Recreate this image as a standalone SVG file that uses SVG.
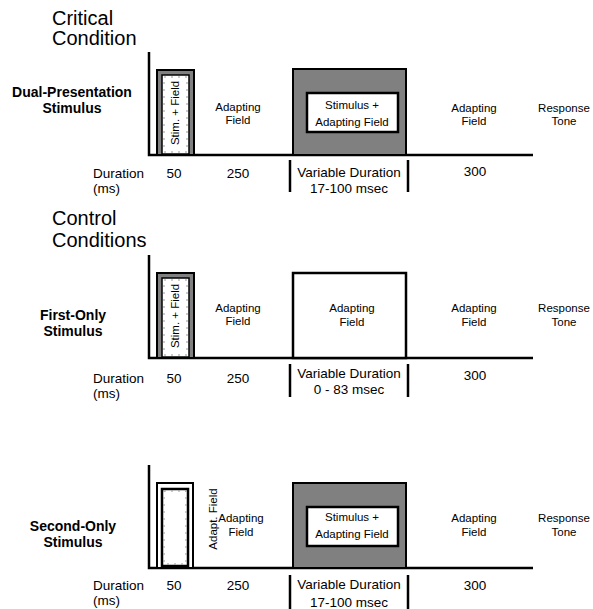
<svg xmlns="http://www.w3.org/2000/svg" width="593" height="609" viewBox="0 0 593 609">
<style>
text{font-family:"Liberation Sans",Arial,sans-serif;fill:#000}
.title{font-size:20px}
.lbl{font-size:11.5px;text-anchor:middle}
.bold{font-size:14px;font-weight:bold;text-anchor:middle}
.dur{font-size:13.5px}
.mid{text-anchor:middle}
.ax{stroke:#000;stroke-width:2.5;fill:none}
.brk{stroke:#000;stroke-width:2.5}
.grey{fill:#808080;stroke:#000;stroke-width:2}
.wbox{fill:#fff;stroke:#000;stroke-width:2.5}
.stimin{fill:#fff;stroke:#000;stroke-width:1.5}
.dots{fill:none;stroke:#999;stroke-width:1;stroke-dasharray:2 5}
</style>
<g id="titles">
<text class="title" x="52" y="25">Critical</text>
<text class="title" x="52" y="45">Condition</text>
<text class="title" x="52" y="225">Control</text>
<text class="title" x="52" y="247">Conditions</text>
</g>
<g id="panel1">
<g id="p1-label"><text class="bold" x="72" y="97">Dual-Presentation</text><text class="bold" x="72" y="113">Stimulus</text></g>
<g id="p1-axis"><path class="ax" d="M149,52 V155 H533"/></g>
<g id="p1-stim">
<rect class="grey" x="157" y="70" width="37" height="85"/>
<rect class="stimin" x="162" y="75" width="27" height="79"/>
<rect class="dots" x="164" y="77" width="23" height="75"/>
<text class="lbl" transform="translate(179,113) rotate(-90)" x="0" y="0">Stim. + Field</text>
</g>
<g id="p1-adapt1"><text class="lbl" x="238" y="111">Adapting</text><text class="lbl" x="238" y="124">Field</text></g>
<g id="p1-target">
<rect class="grey" x="293" y="69" width="113" height="86"/>
<rect class="wbox" x="307" y="93" width="91" height="39"/>
<text class="lbl" x="352" y="109">Stimulus +</text>
<text class="lbl" x="352" y="126">Adapting Field</text>
</g>
<g id="p1-adapt2"><text class="lbl" x="474" y="112">Adapting</text><text class="lbl" x="474" y="125">Field</text></g>
<g id="p1-tone"><text class="lbl" x="564" y="112">Response</text><text class="lbl" x="564" y="125">Tone</text></g>
<g id="p1-dur">
<text class="dur" x="93" y="178">Duration</text>
<text class="dur" x="93" y="193">(ms)</text>
<text class="dur mid" x="174" y="178">50</text>
<text class="dur mid" x="238" y="178">250</text>
<text class="dur mid" x="349" y="177">Variable Duration</text>
<text class="dur mid" x="349" y="193">17-100 msec</text>
<text class="dur mid" x="475" y="176">300</text>
<line class="brk" x1="290" y1="160" x2="290" y2="192"/>
<line class="brk" x1="408" y1="160" x2="408" y2="192"/>
</g>
</g>
<g id="panel2">
<g id="p2-label"><text class="bold" x="73" y="320">First-Only</text><text class="bold" x="73" y="336">Stimulus</text></g>
<g id="p2-axis"><path class="ax" d="M149,255 V358 H533"/></g>
<g id="p2-stim">
<rect class="grey" x="157" y="273" width="37" height="85"/>
<rect class="stimin" x="162" y="278" width="27" height="79"/>
<rect class="dots" x="164" y="280" width="23" height="75"/>
<text class="lbl" transform="translate(179,316) rotate(-90)" x="0" y="0">Stim. + Field</text>
</g>
<g id="p2-adapt1"><text class="lbl" x="238" y="312">Adapting</text><text class="lbl" x="238" y="325">Field</text></g>
<g id="p2-target">
<rect class="wbox" x="293" y="273" width="113" height="85"/>
<text class="lbl" x="352" y="312">Adapting</text>
<text class="lbl" x="352" y="326">Field</text>
</g>
<g id="p2-adapt2"><text class="lbl" x="474" y="312">Adapting</text><text class="lbl" x="474" y="326">Field</text></g>
<g id="p2-tone"><text class="lbl" x="564" y="312">Response</text><text class="lbl" x="564" y="326">Tone</text></g>
<g id="p2-dur">
<text class="dur" x="93" y="383">Duration</text>
<text class="dur" x="93" y="398">(ms)</text>
<text class="dur mid" x="174" y="383">50</text>
<text class="dur mid" x="238" y="383">250</text>
<text class="dur mid" x="349" y="378">Variable Duration</text>
<text class="dur mid" x="349" y="394">0 - 83 msec</text>
<text class="dur mid" x="475" y="380">300</text>
<line class="brk" x1="290" y1="364" x2="290" y2="397"/>
<line class="brk" x1="408" y1="364" x2="408" y2="397"/>
</g>
</g>
<g id="panel3">
<g id="p3-label"><text class="bold" x="73" y="531">Second-Only</text><text class="bold" x="73" y="547">Stimulus</text></g>
<g id="p3-axis"><path class="ax" d="M149,465 V568 H533"/></g>
<g id="p3-stim">
<rect class="wbox" x="157" y="483" width="36" height="85" style="stroke-width:2"/>
<rect class="wbox" x="162" y="489" width="26" height="77"/>
<rect class="dots" x="164" y="491" width="22" height="73"/>
</g>
<g id="p3-adaptrot"><text class="lbl" transform="translate(217,519) rotate(-90)" x="0" y="0">Adapt. Field</text></g>
<g id="p3-adapt1"><text class="lbl" x="241" y="522">Adapting</text><text class="lbl" x="241" y="536">Field</text></g>
<g id="p3-target">
<rect class="grey" x="293" y="483" width="113" height="85"/>
<rect class="wbox" x="307" y="507" width="91" height="39"/>
<text class="lbl" x="352" y="521">Stimulus +</text>
<text class="lbl" x="352" y="538">Adapting Field</text>
</g>
<g id="p3-adapt2"><text class="lbl" x="474" y="522">Adapting</text><text class="lbl" x="474" y="536">Field</text></g>
<g id="p3-tone"><text class="lbl" x="564" y="522">Response</text><text class="lbl" x="564" y="536">Tone</text></g>
<g id="p3-dur">
<text class="dur" x="93" y="590">Duration</text>
<text class="dur" x="93" y="605">(ms)</text>
<text class="dur mid" x="174" y="590">50</text>
<text class="dur mid" x="238" y="590">250</text>
<text class="dur mid" x="349" y="589">Variable Duration</text>
<text class="dur mid" x="349" y="607">17-100 msec</text>
<text class="dur mid" x="475" y="590">300</text>
<line class="brk" x1="290" y1="575" x2="290" y2="609"/>
<line class="brk" x1="408" y1="575" x2="408" y2="609"/>
</g>
</g>
</svg>
